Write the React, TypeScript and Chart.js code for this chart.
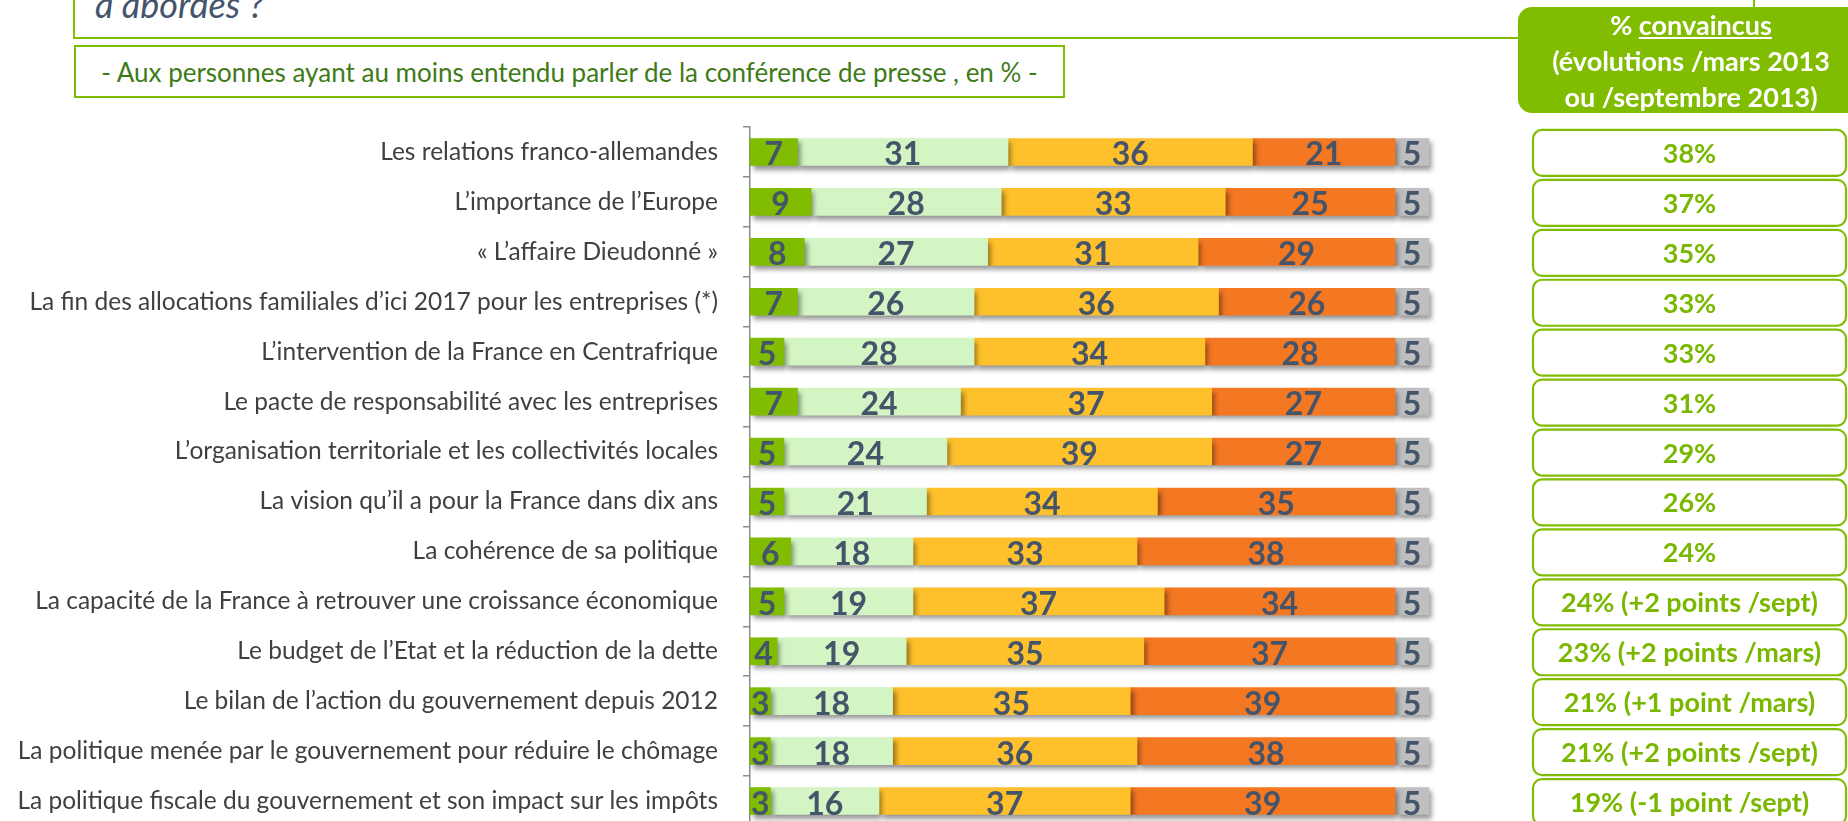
import React, { useEffect, useRef } from 'react';
import { Chart, registerables } from 'chart.js';

Chart.register(...registerables);

const categories = [
  'Les relations franco-allemandes',
  'L\u2019importance de l\u2019Europe',
  '\u00ab L\u2019affaire Dieudonn\u00e9 \u00bb',
  'La fin des allocations familiales d\u2019ici 2017 pour les entreprises (*)',
  'L\u2019intervention de la France en Centrafrique',
  'Le pacte de responsabilit\u00e9 avec les entreprises',
  'L\u2019organisation territoriale et les collectivit\u00e9s locales',
  'La vision qu\u2019il a pour la France dans dix ans',
  'La coh\u00e9rence de sa politique',
  'La capacit\u00e9 de la France \u00e0 retrouver une croissance \u00e9conomique',
  'Le budget de l\u2019Etat et la r\u00e9duction de la dette',
  'Le bilan de l\u2019action du gouvernement depuis 2012',
  'La politique men\u00e9e par le gouvernement pour r\u00e9duire le ch\u00f4mage',
  'La politique fiscale du gouvernement et son impact sur les imp\u00f4ts',
];

const tresConvaincus = [7, 9, 8, 7, 5, 7, 5, 5, 6, 5, 4, 3, 3, 3];
const plutotConvaincus = [31, 28, 27, 26, 28, 24, 24, 21, 18, 19, 19, 18, 18, 16];
const plutotPasConvaincus = [36, 33, 31, 36, 34, 37, 39, 34, 33, 37, 35, 35, 36, 37];
const pasDuToutConvaincus = [21, 25, 29, 26, 28, 27, 27, 35, 38, 34, 37, 39, 38, 39];
const nsp = [5, 5, 5, 5, 5, 5, 5, 5, 5, 5, 5, 5, 5, 5];

const convaincusLabels = [
  '38%',
  '37%',
  '35%',
  '33%',
  '33%',
  '31%',
  '29%',
  '26%',
  '24%',
  '24% (+2 points /sept)',
  '23% (+2 points /mars)',
  '21% (+1 point /mars)',
  '21% (+2 points /sept)',
  '19% (-1 point /sept)',
];

const seriesNames = [
  'Tr\u00e8s convaincus',
  'Plut\u00f4t convaincus',
  'Plut\u00f4t pas convaincus',
  'Pas du tout convaincus',
  'NSP',
];

const GREEN = '#80BC00';
const FONT = 'Lato, "Open Sans", sans-serif';
const LABEL_COLOR = '#44546A';

const shadowPlugin = {
  id: 'barShadow',
  beforeDatasetsDraw(chart: any) {
    const ctx = chart.ctx;
    ctx.save();
    ctx.shadowColor = 'rgba(0,0,0,0.42)';
    ctx.shadowBlur = 5;
    ctx.shadowOffsetX = 3;
    ctx.shadowOffsetY = 4;
  },
  afterDatasetsDraw(chart: any) {
    const ctx = chart.ctx;
    ctx.restore();
    ctx.save();
    ctx.font = `bold 32px ${FONT}`;
    ctx.fillStyle = LABEL_COLOR;
    ctx.textAlign = 'center';
    ctx.textBaseline = 'alphabetic';
    chart.data.datasets.forEach((ds: any, di: number) => {
      const meta = chart.getDatasetMeta(di);
      meta.data.forEach((bar: any, i: number) => {
        const v = ds.data[i];
        const cx = (bar.x + bar.base) / 2;
        const bottom = bar.y + bar.height / 2;
        ctx.fillText(String(v), cx, bottom);
      });
    });
    ctx.restore();
  },
  afterDraw(chart: any) {
    const ctx = chart.ctx;
    const yScale = chart.scales.y;
    ctx.save();
    convaincusLabels.forEach((txt, i) => {
      const c = yScale.getPixelForValue(i);
      const x = 1533;
      const w = 313;
      const top = c - 22;
      const h = 46;
      ctx.beginPath();
      ctx.roundRect(x, top, w, h, 9);
      ctx.fillStyle = '#ffffff';
      ctx.fill();
      ctx.lineWidth = 2.2;
      ctx.strokeStyle = GREEN;
      ctx.stroke();
      ctx.font = `bold 27px ${FONT}`;
      ctx.fillStyle = '#7AB800';
      ctx.textAlign = 'center';
      ctx.textBaseline = 'alphabetic';
      ctx.fillText(txt, x + w / 2, c + 11);
    });
    ctx.restore();
  },
};

export default function App() {
  const canvasRef = useRef<HTMLCanvasElement | null>(null);

  useEffect(() => {
    if (!canvasRef.current) return;
    const colors = ['#80BC00', '#D3F5C3', '#FEC12C', '#F47722', '#BFBFBF'];
    const values = [tresConvaincus, plutotConvaincus, plutotPasConvaincus, pasDuToutConvaincus, nsp];
    const chart = new Chart(canvasRef.current, {
      type: 'bar',
      data: {
        labels: categories,
        datasets: values.map((d, i) => ({
          label: seriesNames[i],
          data: d,
          backgroundColor: colors[i],
          borderWidth: 0,
          barThickness: 27,
          clip: false as any,
        })),
      },
      options: {
        indexAxis: 'y',
        responsive: false,
        animation: false,
        layout: { padding: { left: 0, right: 419, top: 127, bottom: 4 } },
        plugins: {
          legend: { display: false },
          tooltip: { enabled: false },
        },
        scales: {
          x: {
            stacked: true,
            display: false,
            min: 0,
            max: 100,
          },
          y: {
            stacked: true,
            grid: {
              drawOnChartArea: false,
              drawTicks: true,
              tickLength: 7,
              color: '#8C8C8C',
              lineWidth: 1.5,
              offset: true,
            },
            border: { display: true, color: '#8C8C8C', width: 1.5 },
            ticks: {
              autoSkip: false,
              padding: 25,
              color: '#404040',
              font: { family: FONT, size: 24.5 },
            },
            afterFit: (scale: any) => {
              scale.width = 750;
              scale.paddingTop = 0;
              scale.paddingBottom = 0;
            },
          },
        },
      },
      plugins: [shadowPlugin],
    });
    return () => chart.destroy();
  }, []);

  return (
    <div
      style={{
        position: 'fixed',
        left: 0,
        top: 0,
        width: 1848,
        height: 821,
        overflow: 'hidden',
        background: '#ffffff',
        fontFamily: FONT,
      }}
    >
      <div
        style={{
          position: 'absolute',
          left: 73,
          top: -100,
          width: 1682,
          height: 139,
          boxSizing: 'border-box',
          border: `2px solid ${GREEN}`,
        }}
      />
      <div
        style={{
          position: 'absolute',
          left: 95,
          top: -14,
          fontSize: 36,
          lineHeight: '36px',
          fontStyle: 'italic',
          color: LABEL_COLOR,
          whiteSpace: 'nowrap',
        }}
      >
        à abordés ?
      </div>
      <div
        style={{
          position: 'absolute',
          left: 74,
          top: 45,
          width: 991,
          height: 53,
          boxSizing: 'border-box',
          border: `2px solid ${GREEN}`,
          display: 'flex',
          alignItems: 'center',
          justifyContent: 'center',
          color: '#3E7B18',
          fontSize: 26,
          whiteSpace: 'nowrap',
        }}
      >
        - Aux personnes ayant au moins entendu parler de la conférence de presse , en % -
      </div>
      <div
        style={{
          position: 'absolute',
          left: 1518,
          top: 7,
          width: 346,
          height: 106,
          borderRadius: 14,
          background: GREEN,
          color: '#ffffff',
          fontWeight: 'bold',
          fontSize: 27,
          lineHeight: '36px',
          textAlign: 'center',
          paddingTop: 0,
          boxSizing: 'border-box',
          zIndex: 2,
        }}
      >
        <div>
          % <span style={{ textDecoration: 'underline' }}>convaincus</span>
        </div>
        <div>(évolutions /mars 2013</div>
        <div>ou /septembre 2013)</div>
      </div>
      <canvas
        ref={canvasRef}
        width={1848}
        height={830}
        style={{ position: 'absolute', left: 0, top: 0, width: 1848, height: 830 }}
      />
    </div>
  );
}
